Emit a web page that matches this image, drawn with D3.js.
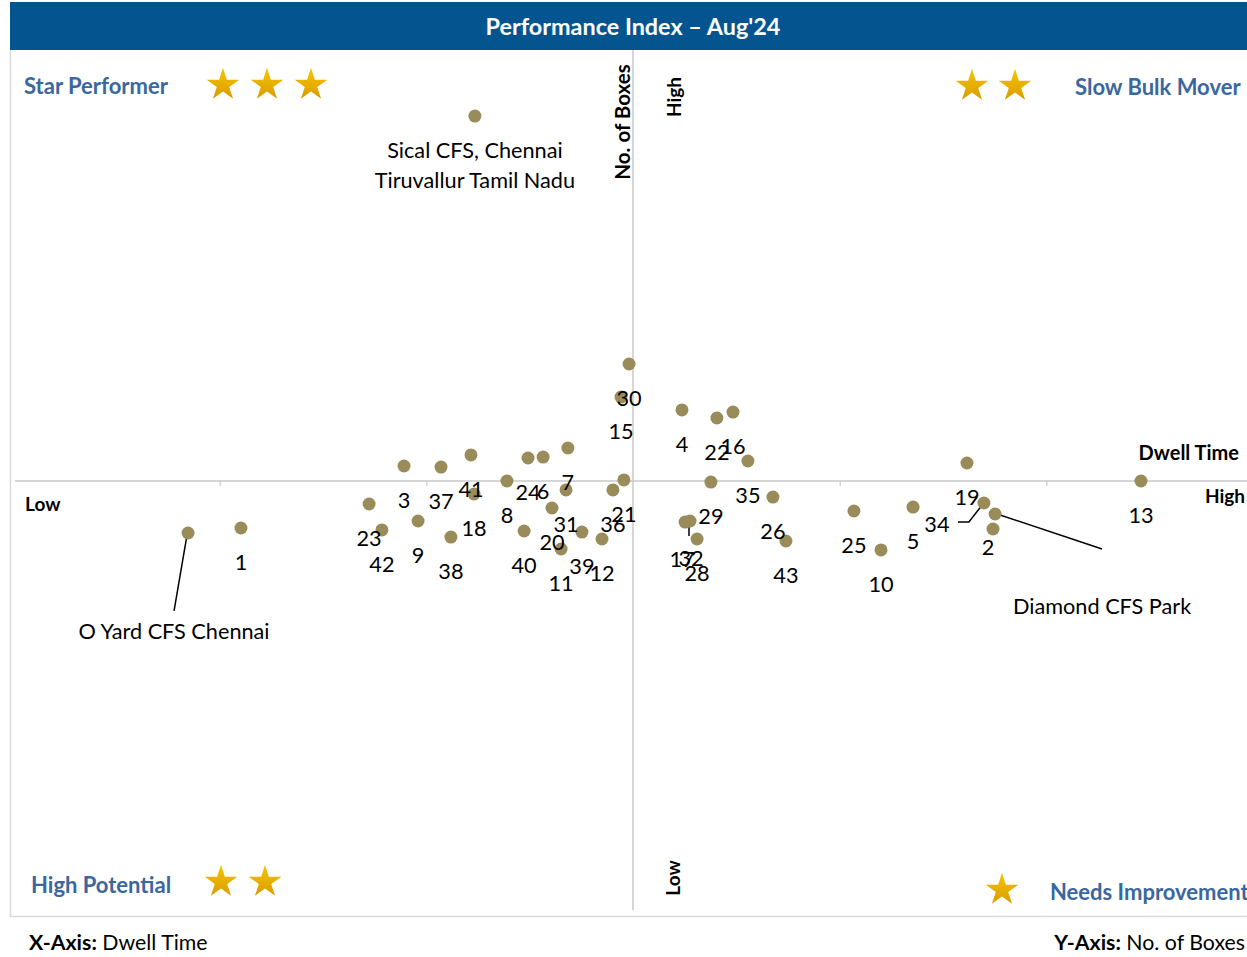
<!DOCTYPE html>
<html>
<head>
<meta charset="utf-8">
<script src="https://cdn.jsdelivr.net/npm/d3@7"></script>
<style>
  html, body { margin: 0; padding: 0; background: #ffffff; }
  svg { display: block; }
</style>
</head>
<body>
<svg id="chart" width="1247" height="957"></svg>
<script>
// ---------------- DATA ----------------
const pointLabels = ["1","2","3","4","5","6","7","8","9","10","11","12","13","15","16","17","18","19","20","21","22","23","24","25","26","28","29","30","31","32","34","35","36","37","38","39","40","41","42","43","Sical CFS, Chennai\nTiruvallur Tamil Nadu","Diamond CFS Park","O Yard CFS Chennai"];
const dwellTime = [11.03,47.42,18.92,32.37,43.55,25.65,26.85,23.90,19.60,42.00,26.52,28.50,54.58,29.42,34.84,32.52,22.31,46.16,26.08,29.56,34.06,17.23,24.92,40.69,36.77,33.10,33.77,29.81,26.76,32.76,46.98,35.56,29.03,20.71,21.19,27.53,24.73,22.16,17.85,37.40,22.35,47.52,8.47];
const noOfBoxes = [44.55,44.43,51.74,58.24,46.98,52.78,53.83,50.00,45.36,42.00,42.11,43.27,50.00,59.74,58.00,45.24,48.49,52.09,46.87,50.12,57.31,47.33,52.67,46.52,48.14,43.27,49.88,63.57,48.96,45.36,47.45,52.32,48.96,51.62,43.50,44.08,44.20,53.02,44.32,43.04,92.34,46.17,43.97];
const xDomain = [0, 60];
const yDomain = [0, 100];
const xCross = 30;   // dwell-time midline
const yCross = 50;   // no.-of-boxes midline
const xTickValues = [10, 20, 40, 50];
const titleText = "Performance Index \u2013 Aug'24";
const quadrantNames = ["Star Performer", "Slow Bulk Mover", "High Potential", "Needs Improvement"];
const quadrantStars = [3, 2, 2, 1];

// ---------------- LAYOUT ----------------
const W = 1247, H = 957;
const FONT = "Lato, 'Open Sans', sans-serif";
const svg = d3.select("#chart");
const x = d3.scaleLinear().domain(xDomain).range([13, 1253]);
const y = d3.scaleLinear().domain(yDomain).range([912, 50]);

// label placement (offset from point, in px) where it differs from default (below)
const labelLayout = {
  "2":  {dx: -5, dy: 18},
  "17": {dx: -3, dy: 37},
  "32": {dx: 1, dy: 37},
  "34": {dx: -47, dy: 21, leader: [[-26, 19], [-15, 19], [-1, 1]]},
  "Sical CFS, Chennai\nTiruvallur Tamil Nadu": {dx: 0, dy: 34},
  "Diamond CFS Park": {dx: 107, dy: 92, leader: [[2, 0], [107, 35]]},
  "O Yard CFS Chennai": {dx: -14, dy: 98, leader: [[-1, 2], [-14, 78]]}
};
const leader1732 = [[689, 522], [689, 536]];

// title bar
svg.append("rect").attr("x", 10).attr("y", 2).attr("width", W - 10).attr("height", 48).attr("fill", "#04558F");
svg.append("text").attr("x", 633).attr("y", 35).attr("text-anchor", "middle")
  .attr("font-family", FONT).attr("font-weight", 700).attr("font-size", 23.4).attr("fill", "#ffffff")
  .text(titleText);

// frame
svg.append("path").attr("d", `M10.5,50 V916.5 H${W}`).attr("fill", "none").attr("stroke", "#d9d9d9").attr("stroke-width", 1.5);

// axes
const xAxis = d3.axisBottom(x).tickValues(xTickValues).tickFormat("").tickSize(5).tickSizeOuter(0);
const gx = svg.append("g").attr("transform", `translate(0,${y(yCross)})`).call(xAxis);
gx.select(".domain").attr("stroke", "#c8c8c8").attr("stroke-width", 1.5).attr("d", `M15,0H${W}`);
gx.selectAll(".tick line").attr("stroke", "#c8c8c8").attr("stroke-width", 1.2);

const yAxis = d3.axisLeft(y).tickValues([]).tickSizeOuter(0);
const gy = svg.append("g").attr("transform", `translate(${x(xCross)},0)`).call(yAxis);
gy.select(".domain").attr("stroke", "#c8c8c8").attr("stroke-width", 1.5).attr("d", `M0,50V910`);

// axis captions
function boldText(t, px, py, anchor, size, rot) {
  const el = svg.append("text").attr("font-family", FONT).attr("font-weight", 700)
    .attr("font-size", size).attr("fill", "#000").attr("text-anchor", anchor).text(t);
  if (rot) el.attr("transform", `translate(${px},${py}) rotate(${rot})`);
  else el.attr("x", px).attr("y", py);
  return el;
}
boldText("Low", 25, 511, "start", 19);
boldText("High", 1245, 503, "end", 19);
boldText("Dwell Time", 1239, 460, "end", 20);
boldText("No. of Boxes", 630, 122, "middle", 20.5, -90);
boldText("High", 681, 97, "middle", 19, -90);
boldText("Low", 680, 878, "middle", 19, -90);

// stars
const defs = svg.append("defs");
const grad = defs.append("linearGradient").attr("id", "gold").attr("x1", 0).attr("y1", 0).attr("x2", 0).attr("y2", 1);
grad.append("stop").attr("offset", "0%").attr("stop-color", "#F7C500");
grad.append("stop").attr("offset", "100%").attr("stop-color", "#D99B00");
const starPath = d3.symbol().type(d3.symbolStar).size(330);
function stars(cx0, cy, n, gap) {
  for (let i = 0; i < n; i++) {
    svg.append("path").attr("d", starPath()).attr("fill", "url(#gold)")
      .attr("transform", `translate(${cx0 + i * gap},${cy + 2})`);
  }
}
const qColor = "#3A67A0";
function qLabel(t, px, py, anchor) {
  svg.append("text").attr("x", px).attr("y", py).attr("text-anchor", anchor)
    .attr("font-family", FONT).attr("font-weight", 700).attr("font-size", 22).attr("fill", qColor).text(t);
}
qLabel(quadrantNames[0], 24, 94, "start");   stars(223, 83, quadrantStars[0], 44);
qLabel(quadrantNames[1], 1075, 95, "start"); stars(972, 84, quadrantStars[1], 43);
qLabel(quadrantNames[2], 31, 893, "start");  stars(221, 880, quadrantStars[2], 44);
qLabel(quadrantNames[3], 1050, 900, "start"); stars(1002, 888, quadrantStars[3], 44);

// data
const data = pointLabels.map((l, i) => ({label: l, dt: dwellTime[i], nb: noOfBoxes[i]}));

// leader lines
const lg = svg.append("g").attr("stroke", "#000").attr("stroke-width", 1.5).attr("fill", "none");
data.forEach(d => {
  const L = labelLayout[d.label];
  if (L && L.leader) {
    const px = x(d.dt), py = y(d.nb);
    lg.append("path").attr("d", d3.line()(L.leader.map(p => [px + p[0], py + p[1]])));
  }
});
lg.append("path").attr("d", d3.line()(leader1732));

// points
svg.append("g").selectAll("circle").data(data).join("circle")
  .attr("cx", d => x(d.dt)).attr("cy", d => y(d.nb)).attr("r", 6.5).attr("fill", "#998C5A");

// labels
const tg = svg.append("g").attr("font-family", FONT).attr("font-size", 21.7).attr("fill", "#000").attr("text-anchor", "middle");
data.forEach(d => {
  const L = labelLayout[d.label] || {dx: 0, dy: 34};
  const px = x(d.dt) + L.dx, py = y(d.nb) + L.dy;
  const lines = d.label.split("\n");
  const t = tg.append("text").attr("x", px).attr("y", py + 8);
  lines.forEach((ln, k) => {
    t.append("tspan").attr("x", px).attr("dy", k === 0 ? 0 : 30).text(ln);
  });
});

// footer
const f1 = svg.append("text").attr("x", 29).attr("y", 950).attr("font-family", FONT).attr("font-size", 21.3).attr("fill", "#000");
f1.append("tspan").attr("font-weight", 700).text("X-Axis:");
f1.append("tspan").text(" Dwell Time");
const f2 = svg.append("text").attr("x", 1245).attr("y", 950).attr("text-anchor", "end").attr("font-family", FONT).attr("font-size", 21.3).attr("fill", "#000");
f2.append("tspan").attr("font-weight", 700).text("Y-Axis:");
f2.append("tspan").text(" No. of Boxes");
</script>
</body>
</html>
